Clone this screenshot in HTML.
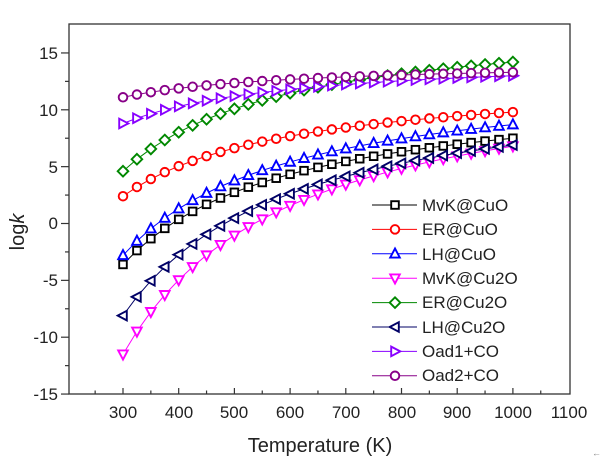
<!DOCTYPE html>
<html><head><meta charset="utf-8"><style>
body{margin:0;background:#fff;}
svg{display:block;font-family:"Liberation Sans",Arial,sans-serif;}
</style></head><body>
<svg id="s" width="600" height="461" viewBox="0 0 600 461" xmlns="http://www.w3.org/2000/svg">
<rect x="69" y="24" width="501" height="370" fill="none" stroke="#333" stroke-width="1.3"/>
<g id="ticks" stroke="#333" stroke-width="1.2"></g>
<g font-size="17" fill="#222" text-anchor="end">
<text x="58" y="59">15</text><text x="58" y="116">10</text><text x="58" y="173">5</text><text x="58" y="229">0</text>
<text x="58" y="286">-5</text><text x="58" y="343">-10</text><text x="58" y="400">-15</text>
</g>
<g font-size="17" fill="#222" text-anchor="middle">
<text x="123" y="418">300</text><text x="179" y="418">400</text><text x="234" y="418">500</text><text x="290" y="418">600</text>
<text x="346" y="418">700</text><text x="402" y="418">800</text><text x="457" y="418">900</text><text x="513" y="418">1000</text><text x="569" y="418">1100</text>
</g>
<text x="320" y="452" font-size="20" fill="#222" text-anchor="middle">Temperature (K)</text>
<text transform="translate(24,232) rotate(-90)" font-size="20" fill="#222" text-anchor="middle">log<tspan font-style="italic">k</tspan></text>
<text x="592" y="456" font-size="9" fill="#888">←</text>
<g id="data"></g>
<g id="leg"></g>
<g font-size="17" fill="#222">
<text x="422" y="211">MvK@CuO</text><text x="422" y="235">ER@CuO</text><text x="422" y="260">LH@CuO</text><text x="422" y="284">MvK@Cu2O</text>
<text x="422" y="308">ER@Cu2O</text><text x="422" y="333">LH@Cu2O</text><text x="422" y="357">Oad1+CO</text><text x="422" y="381">Oad2+CO</text>
</g>
</svg>
<script>
function X(T){return 123+(T-300)*0.557;}
function Y(v){return 223.5-11.37*v;}
var tk="";
for(var T=250;T<=1050;T+=50){var x=X(T),l=(T%100==0)?6:3.5;tk+='<line x1="'+x+'" y1="394" x2="'+x+'" y2="'+(394-l)+'"/>';}
for(var v=-15;v<=15;v+=2.5){var y=Y(v),l=(v%5==0)?8:4;tk+='<line x1="69" y1="'+y+'" x2="'+(69-l)+'" y2="'+y+'"/>';}
document.getElementById("ticks").innerHTML=tk;
var S=[
["#000","sq",-3.6,7.5],["#f00","ci",2.4,9.8],["#00f","up",-2.8,8.7],["#f0f","dn",-11.5,6.8],
["#080","di",4.6,14.2],["#006","lt",-8.1,6.9],["#80f","rt",8.8,13.0],["#808","ci",11.1,13.3]];
function mk(t,x,y,c){var r=4.3,sw=1.9;
 if(t=="sq")return '<rect x="'+(x-r+0.5)+'" y="'+(y-r+0.5)+'" width="'+(2*r-1)+'" height="'+(2*r-1)+'" fill="#fff" stroke="'+c+'" stroke-width="'+sw+'"/>';
 if(t=="ci")return '<circle cx="'+x+'" cy="'+y+'" r="'+r+'" fill="#fff" stroke="'+c+'" stroke-width="'+sw+'"/>';
 var p;
 if(t=="up")p=[[x,y-r-1],[x+r+0.5,y+r-0.5],[x-r-0.5,y+r-0.5]];
 if(t=="dn")p=[[x,y+r+1],[x+r+0.5,y-r+0.5],[x-r-0.5,y-r+0.5]];
 if(t=="lt")p=[[x-r-1,y],[x+r-0.5,y-r-0.5],[x+r-0.5,y+r+0.5]];
 if(t=="rt")p=[[x+r+1,y],[x-r+0.5,y-r-0.5],[x-r+0.5,y+r+0.5]];
 if(t=="di")p=[[x,y-r-1],[x+r+1,y],[x,y+r+1],[x-r-1,y]];
 return '<polygon points="'+p.map(function(a){return a.join(",")}).join(" ")+'" fill="#fff" stroke="'+c+'" stroke-width="'+sw+'"/>';}
var h="";
S.forEach(function(s){var B=(s[3]-s[2])/(1/300-1/1000),A=s[3]+B/1000,pts=[],m="";
 for(var T=300;T<=1000;T+=25){var x=X(T),y=Y(A-B/T);pts.push(x+","+y);m+=mk(s[1],x,y,s[0]);}
 h+='<polyline points="'+pts.join(" ")+'" fill="none" stroke="'+s[0]+'" stroke-width="1"/>'+m;});
document.getElementById("data").innerHTML=h;
var lg="";
S.forEach(function(s,i){var y=205+i*24.4;lg+='<line x1="372" y1="'+y+'" x2="417" y2="'+y+'" stroke="'+s[0]+'" stroke-width="1"/>'+mk(s[1],395,y,s[0]);});
document.getElementById("leg").innerHTML=lg;
</script>
</body></html>
